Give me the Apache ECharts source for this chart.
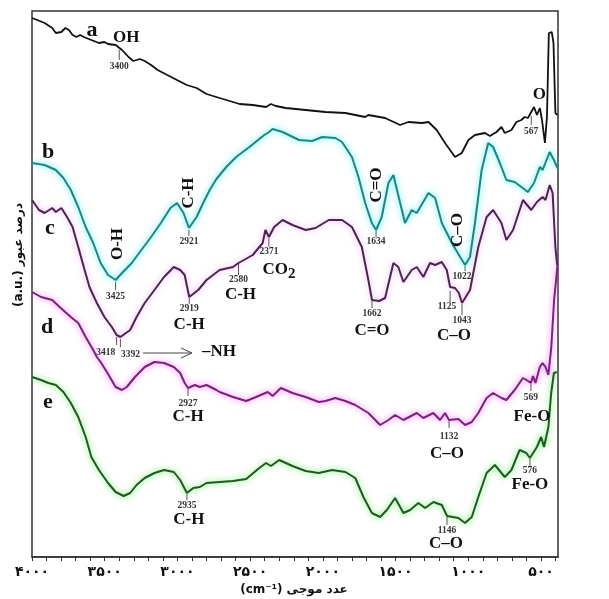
<!DOCTYPE html>
<html>
<head>
<meta charset="utf-8">
<script src="https://cdn.jsdelivr.net/npm/echarts@6/dist/echarts.min.js"></script>
<style>
  html, body { margin: 0; padding: 0; background: #fff; }
  #chart { width: 609px; height: 599px; }
</style>
</head>
<body>
<div id="chart"></div>
<script>
// FTIR spectra: wavenumber (cm-1) and relative transmittance (a.u.) for samples a–e
const waveA = [4000,3964,3913,3861,3836,3798,3771,3746,3721,3694,3669,3644,3592,3540,3502,3477,3425,3381,3336,3303,3258,3225,3181,3136,3070,3003,2936,2868,2800,2710,2618,2573,2482,2391,2357,2323,2255,2186,2118,1982,1845,1709,1687,1572,1469,1412,1320,1274,1217,1160,1091,1045,999,954,886,851,806,772,749,703,669,635,613,590,567,548,528,508,493,473,459,446,426,414,401,387];
const transA = [539,537,534,529,524,525,529,527,522,520,522,520,517,514,515,513,512,507,500,496,498,496,492,487,482,477,472,469,463,459,455,453,452,450,453,451,449,448,447,445,444,440,442,439,432,435,434,435,427,414,400,404,417,422,424,421,425,430,424,427,435,437,440,439,445,450,442,449,437,414,440,524,525,514,444,442];

const waveB = [4000,3913,3836,3784,3733,3682,3631,3579,3528,3477,3425,3381,3314,3248,3181,3114,3048,3003,2958,2921,2868,2823,2778,2732,2664,2596,2505,2403,2379,2345,2277,2164,2073,2004,1914,1868,1800,1755,1709,1663,1634,1595,1549,1515,1435,1389,1354,1274,1228,1182,1113,1056,1022,988,954,908,863,829,783,738,681,635,590,548,508,489,440,411,387];
const transB = [394,392,387,379,367,350,330,314,294,282,277,284,294,307,320,334,349,354,344,329,340,354,367,378,390,400,410,422,424,428,425,417,416,420,419,415,400,380,354,334,327,340,374,382,334,347,344,364,359,334,314,300,292,300,334,387,414,410,394,377,375,370,365,374,390,387,405,397,389];

const waveC = [4000,3952,3913,3861,3836,3798,3759,3721,3682,3644,3605,3554,3502,3451,3418,3405,3392,3325,3281,3225,3158,3092,3025,2981,2950,2919,2857,2800,2710,2618,2580,2482,2414,2395,2371,2335,2277,2209,2118,2050,1959,1868,1800,1732,1687,1662,1613,1572,1515,1481,1446,1389,1354,1309,1263,1228,1182,1148,1125,1091,1065,1043,988,931,874,829,772,738,692,624,567,528,489,469,440,420,401,389];
const transC = [357,347,344,349,345,349,340,330,310,290,270,254,240,230,222,224,220,227,240,254,267,280,290,287,282,260,267,277,287,290,294,302,314,327,320,330,337,332,327,329,337,337,330,310,277,257,256,259,294,290,275,287,290,280,294,292,295,287,270,269,264,254,267,310,340,347,334,317,327,357,347,355,360,357,372,364,310,292];

const waveD = [4000,3938,3861,3810,3733,3682,3631,3579,3554,3528,3477,3425,3381,3348,3292,3225,3158,3092,3025,2981,2950,2927,2880,2846,2800,2732,2710,2618,2527,2459,2379,2345,2289,2209,2118,2028,1982,1914,1845,1777,1687,1606,1549,1503,1446,1354,1309,1240,1194,1160,1132,1068,1022,976,931,874,829,772,738,681,624,600,569,555,538,508,489,469,449,429,410,396,387];
const transD = [265,260,257,250,240,234,220,207,200,195,183,170,167,170,180,190,195,194,190,184,174,169,172,170,172,167,165,160,156,160,165,161,169,164,160,155,156,159,156,152,144,132,137,142,137,144,139,144,137,144,137,138,132,135,144,159,164,159,157,167,179,177,174,181,174,190,194,190,182,210,257,277,292];

const waveE = [4000,3938,3887,3836,3784,3733,3682,3631,3592,3540,3477,3425,3370,3325,3281,3225,3158,3092,3025,2981,2935,2891,2846,2800,2710,2618,2527,2437,2391,2357,2300,2209,2118,2028,1936,1845,1777,1721,1663,1606,1560,1503,1446,1400,1343,1297,1240,1182,1146,1068,1022,976,931,874,817,749,703,647,601,576,528,499,479,449,430,411,391];
const transE = [180,177,174,172,165,154,140,120,100,87,74,65,61,64,72,79,84,87,85,77,64,69,70,74,75,76,78,89,94,91,97,91,86,84,87,85,79,60,44,40,47,59,44,47,54,49,55,52,41,39,34,40,60,84,92,80,87,107,104,99,110,120,110,130,164,184,185];

// Assigned absorption bands
const bandTrace = ['a','a','b','b','b','b','c','c','c','c','c','c','c','c','d','d','d','e','e','e'];
const bandWave  = [3400,567,3425,2921,1634,1022,3418,3392,2919,2580,2371,1662,1125,1043,2927,1132,569,2935,1146,576];
const bandGroup = ['OH','O','O-H','C-H','C=O','C–O','','','C-H','C-H','CO2','C=O','','C–O','C-H','C–O','Fe-O','C-H','C–O','Fe-O'];

// Axis ticks
const tickValues = [4000,3500,3000,2500,2000,1500,1000,500];
const tickLabels = ['۴۰۰۰','۳۵۰۰','۳۰۰۰','۲۵۰۰','۲۰۰۰','۱۵۰۰','۱۰۰۰','۵۰۰'];
const minorTickValues = [];
for (let v = 400; v <= 4000; v += 100) minorTickValues.push(v);

const traces = {
  a: { wave: waveA, trans: transA },
  b: { wave: waveB, trans: transB },
  c: { wave: waveC, trans: transC },
  d: { wave: waveD, trans: transD },
  e: { wave: waveE, trans: transE }
};

// Band label placement (pixel offsets from the band's point on its curve)
// t0/t1: marker tick, ny/nx: number, gx/gy: group label, v: vertical group label
const bandLayout = [
  { t0: 2, t1: 12, ny: 19, nx: 0,  gx: 7,  gy: -10 },
  { t0: 4, t1: 13, ny: 20, nx: 0,  gx: 8,  gy: -17 },
  { t0: 2, t1: 10, ny: 17, nx: 0,  gx: 2,  gy: -36, v: true },
  { t0: 2, t1: 8,  ny: 14, nx: 0,  gx: 0,  gy: -35, v: true },
  { t0: 1, t1: 7,  ny: 12, nx: 0,  gx: 1,  gy: -45, v: true },
  { t0: 1, t1: 6,  ny: 12, nx: -3, gx: -7, gy: -35, v: true },
  { t0: 2, t1: 10, ny: 18, nx: -11 },
  { t0: 2, t1: 10, ny: 18, nx: 10 },
  { t0: 1, t1: 7,  ny: 12, nx: 0,  gx: 0,  gy: 28 },
  { t0: 1, t1: 12, ny: 17, nx: 0,  gx: 2,  gy: 32 },
  { t0: 1, t1: 10, ny: 15, nx: 0,  gx: 10, gy: 33 },
  { t0: 1, t1: 8,  ny: 14, nx: 0,  gx: 0,  gy: 31 },
  { t0: 4, t1: 15, ny: 20, nx: -3 },
  { t0: 1, t1: 12, ny: 18, nx: 0,  gx: -8, gy: 33 },
  { t0: 1, t1: 8,  ny: 16, nx: 0,  gx: 0,  gy: 29 },
  { t0: 1, t1: 8,  ny: 17, nx: 0,  gx: -2, gy: 34 },
  { t0: 1, t1: 8,  ny: 15, nx: 0,  gx: 1,  gy: 34 },
  { t0: 1, t1: 7,  ny: 13, nx: 0,  gx: 2,  gy: 27 },
  { t0: 1, t1: 9,  ny: 15, nx: 0,  gx: -1, gy: 28 },
  { t0: 1, t1: 8,  ny: 13, nx: 0,  gx: 0,  gy: 27 }
];

const SERIF = '"Liberation Serif", "Times New Roman", serif';

function pairs(w, t) { return w.map((x, i) => [x, t[i]]); }

// Linear interpolation of a spectrum at a given wavenumber
function curveAt(key, w) {
  const tr = traces[key];
  for (let i = 0; i < tr.wave.length - 1; i++) {
    const w0 = tr.wave[i], w1 = tr.wave[i + 1];
    if (w <= w0 && w >= w1) {
      const f = (w0 - w) / (w0 - w1);
      return tr.trans[i] + f * (tr.trans[i + 1] - tr.trans[i]);
    }
  }
  return tr.trans[tr.trans.length - 1];
}

function lineSeries(key, color, glow) {
  return {
    type: 'line',
    name: key,
    data: pairs(traces[key].wave, traces[key].trans),
    symbol: 'none',
    silent: true,
    lineStyle: glow
      ? { color: color, width: 2, shadowColor: glow, shadowBlur: 6 }
      : { color: color, width: 1.8 },
    z: 2
  };
}

function groupText(text, x, y, vertical) {
  const base = {
    x: x, y: y,
    rotation: vertical ? Math.PI / 2 : 0,
    style: {
      text: text, x: 0, y: 0,
      align: 'center', verticalAlign: 'middle',
      fontSize: 17, fontWeight: 'bold', fontFamily: SERIF, fill: '#111'
    }
  };
  if (text === 'CO2') {
    base.style.text = '{m|CO}{s|2}';
    base.style.rich = {
      m: { fontSize: 17, fontWeight: 'bold', fontFamily: SERIF, fill: '#111' },
      s: { fontSize: 15, fontWeight: 'bold', fontFamily: SERIF, fill: '#111', padding: [9, 0, 0, 0] }
    };
  }
  return Object.assign({ type: 'text' }, base);
}

const bandSeries = {
  type: 'custom',
  z: 5,
  silent: true,
  data: bandWave.map((w, i) => [w, curveAt(bandTrace[i], w), i]),
  renderItem: function (params, api) {
    const i = api.value(2);
    const L = bandLayout[i];
    const p = api.coord([api.value(0), api.value(1)]);
    const x = p[0], y = p[1];
    const children = [
      { type: 'line', shape: { x1: x, y1: y + L.t0, x2: x, y2: y + L.t1 },
        style: { stroke: '#555', lineWidth: 1 } },
      { type: 'text', style: {
          text: String(bandWave[i]), x: x + L.nx, y: y + L.ny,
          align: 'center', verticalAlign: 'middle',
          fontSize: 9.5, fontWeight: 'bold', fontFamily: SERIF, fill: '#333' } }
    ];
    if (bandGroup[i]) children.push(groupText(bandGroup[i], x + L.gx, y + L.gy, !!L.v));
    return { type: 'group', children: children };
  }
};

const chart = echarts.init(document.getElementById('chart'), null, { renderer: 'canvas' });

const sampleLetter = (t, x, y) => ({
  type: 'text', x: x, y: y,
  style: { text: t, align: 'center', verticalAlign: 'middle',
           fontSize: 22, fontWeight: 'bold', fontFamily: SERIF, fill: '#111' }
});

chart.setOption({
  animation: false,
  backgroundColor: '#fff',
  grid: { left: 32, top: 11, right: 51, bottom: 42, show: true,
          borderColor: '#333', borderWidth: 1.5, backgroundColor: 'transparent' },
  xAxis: {
    type: 'value', inverse: true, min: 383, max: 4000,
    axisLine: { show: true, lineStyle: { color: '#333', width: 1.5 } },
    axisTick: { show: true, inside: false, length: 4, customValues: minorTickValues,
                lineStyle: { color: '#333', width: 1 } },
    axisLabel: {
      show: true, customValues: tickValues, margin: 8,
      formatter: v => tickLabels[tickValues.indexOf(v)] || '',
      fontFamily: '"DejaVu Sans", sans-serif', fontWeight: 'bold', fontSize: 14, color: '#111'
    },
    splitLine: { show: false }
  },
  yAxis: { type: 'value', min: 0, max: 546, show: false },
  series: [
    lineSeries('a', '#111111', null),
    lineSeries('b', '#1b8784', 'rgba(40,235,235,0.95)'),
    lineSeries('c', '#4b2453', 'rgba(230,130,230,0.7)'),
    lineSeries('d', '#7e1f80', 'rgba(245,90,245,0.95)'),
    lineSeries('e', '#1f5a1f', 'rgba(70,235,70,0.9)'),
    bandSeries
  ],
  graphic: [
    sampleLetter('a', 92, 30),
    sampleLetter('b', 48, 152),
    sampleLetter('c', 50, 228),
    sampleLetter('d', 47, 327),
    sampleLetter('e', 48, 402),
    // arrow pointing to the amine band label
    { type: 'line', shape: { x1: 143, y1: 353, x2: 191, y2: 353 },
      style: { stroke: '#444', lineWidth: 1 } },
    { type: 'polyline', shape: { points: [[181, 348], [192, 353], [181, 358]] },
      style: { stroke: '#444', lineWidth: 1, fill: null } },
    { type: 'text', x: 219, y: 352,
      style: { text: '–NH', align: 'center', verticalAlign: 'middle',
               fontSize: 17, fontWeight: 'bold', fontFamily: SERIF, fill: '#111' } },
    // axis titles
    { type: 'text', x: 294, y: 590,
      style: { text: '(cm⁻¹) عدد موجی', align: 'center', verticalAlign: 'middle',
               fontSize: 12, fontWeight: 'bold', fontFamily: '"DejaVu Sans", sans-serif', fill: '#111' } },
    { type: 'text', x: 19, y: 255, rotation: Math.PI / 2,
      style: { text: '(a.u.) درصد عبور', x: 0, y: 0, align: 'center', verticalAlign: 'middle',
               fontSize: 12, fontWeight: 'bold', fontFamily: '"DejaVu Sans", sans-serif', fill: '#111' } }
  ]
});
</script>
</body>
</html>
